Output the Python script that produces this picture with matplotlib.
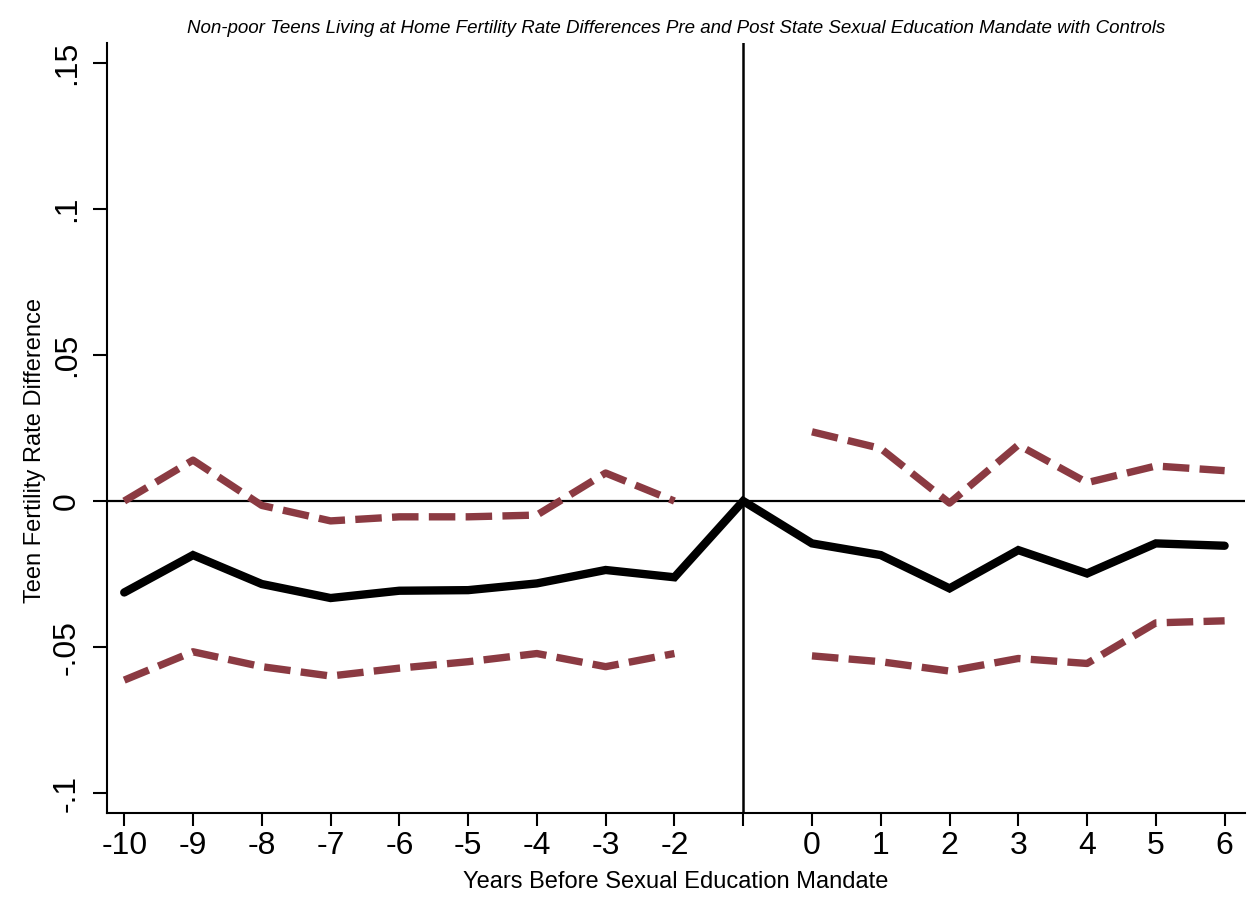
import numpy as np
import matplotlib.pyplot as plt

plt.rcParams['font.family'] = ['Liberation Sans', 'DejaVu Sans']

# event years relative to the mandate; -1 is the omitted reference year
years = [-10, -9, -8, -7, -6, -5, -4, -3, -2, -1, 0, 1, 2, 3, 4, 5, 6]
tick_labels = ['-10', '-9', '-8', '-7', '-6', '-5', '-4', '-3', '-2', '',
               '0', '1', '2', '3', '4', '5', '6']

estimate = [-0.0313, -0.0185, -0.0284, -0.0332, -0.0307, -0.0305, -0.0282,
            -0.0236, -0.0261, 0.0, -0.0145, -0.0185, -0.0299, -0.0168,
            -0.0248, -0.0145, -0.0153]
upper_ci = [0.0, 0.014, -0.0015, -0.0068, -0.0054, -0.0054, -0.0048, 0.0096,
            0.0, np.nan, 0.0237, 0.018, -0.0007, 0.0192, 0.0063, 0.012, 0.0104]
lower_ci = [-0.0613, -0.0516, -0.0567, -0.0599, -0.0572, -0.055, -0.0522,
            -0.0567, -0.0522, np.nan, -0.053, -0.055, -0.0582, -0.0539,
            -0.0556, -0.0417, -0.041]

y_ticks = [-0.1, -0.05, 0, 0.05, 0.1, 0.15]
y_tick_labels = ['-.1', '-.05', '0', '.05', '.1', '.15']

ci_color = '#8b3a42'

fig = plt.figure(figsize=(12.49, 9.07), dpi=100)
ax = fig.add_axes([0.0857, 0.1036, 0.9113, 0.849])

ax.axhline(0, color='black', lw=1.6, zorder=1)
ax.axvline(-1, color='black', lw=1.8, zorder=1)

ax.plot(years, upper_ci, color=ci_color, lw=5.3, dashes=(3.6, 1.4),
        dash_capstyle='butt', zorder=2)
ax.plot(years, lower_ci, color=ci_color, lw=5.3, dashes=(3.6, 1.4),
        dash_capstyle='butt', zorder=2)
ax.plot(years, estimate, color='black', lw=6, solid_capstyle='round',
        solid_joinstyle='miter', zorder=3)

ax.set_xlim(-10.25, 6.3)
ax.set_ylim(-0.1068, 0.1568)

ax.set_xticks(years)
ax.set_xticklabels(tick_labels, fontsize=23)
ax.set_yticks(y_ticks)
ax.set_yticklabels(y_tick_labels, fontsize=23, rotation=90, va='center')

for side in ['top', 'right']:
    ax.spines[side].set_visible(False)
for side in ['left', 'bottom']:
    ax.spines[side].set_linewidth(1.5)
ax.tick_params(axis='x', direction='out', length=9, width=1.5, pad=4)
ax.tick_params(axis='y', direction='out', length=10, width=1.5, pad=8)

ax.set_xlabel('Years Before Sexual Education Mandate', fontsize=17, labelpad=7)
ax.set_ylabel('Teen Fertility Rate Difference', fontsize=17, labelpad=4)
ax.yaxis.label.set_y(0.471)
ax.set_title('Non-poor Teens Living at Home Fertility Rate Differences Pre and Post '
             'State Sexual Education Mandate with Controls',
             fontsize=13.5, style='italic', pad=7)

fig.savefig('out.png', dpi=100)
